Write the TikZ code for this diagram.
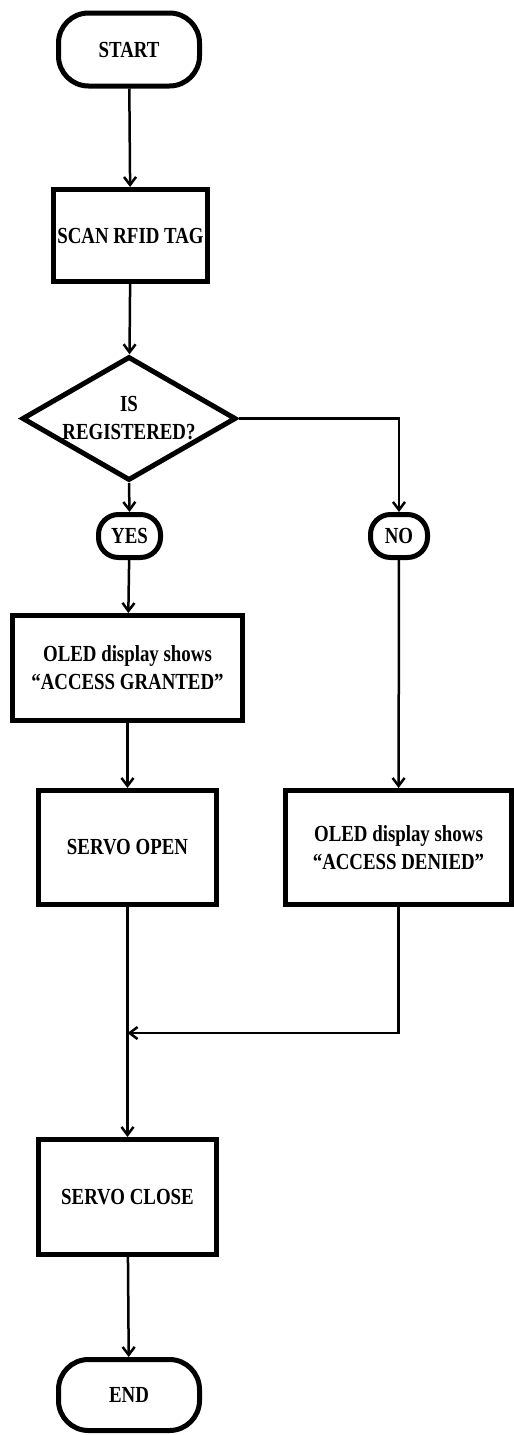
\documentclass[tikz,border=0pt]{standalone}
\usepackage{fontspec}
\setmainfont{Liberation Serif}[FakeStretch=0.82]
\usetikzlibrary{shapes.geometric,arrows.meta}

\tikzstyle{every node}=[font=\fontsize{23}{28}\selectfont\bfseries,
                        align=center, inner sep=0pt]
\tikzstyle{terminal}=[draw, line width=5pt, rounded corners=30pt,
                      minimum width=141pt, minimum height=73pt]
\tikzstyle{answer}=[draw, line width=5pt, rounded corners=20pt,
                    minimum height=43pt]
\tikzstyle{process}=[draw, line width=5pt]
\tikzstyle{decision}=[draw, diamond, line width=5pt, aspect=1.73,
                      minimum width=214pt, minimum height=124pt]
\tikzstyle{flow}=[line width=2.5pt, -{Straight Barb[length=8pt,width=12pt]}]

\begin{document}
\begin{tikzpicture}[x=1pt, y=-1pt]
  \useasboundingbox (0, 0) rectangle (514, 1435);

  \node[terminal] (start) at (129, 49.5) {START};
  \node[process, minimum width=154pt, minimum height=92pt] (scan) at (130.5, 235.5) {SCAN RFID TAG};
  \node[decision] (dia) at (129, 418.5) {IS\\REGISTERED?};

  \node[answer, minimum width=62pt] (yes) at (129.5, 536) {YES};
  \node[answer, minimum width=57pt] (no) at (399, 536) {NO};

  \node[process, minimum width=230pt, minimum height=105pt] (granted) at (127.5, 668)
    {OLED display shows\\``ACCESS GRANTED''};
  \node[process, minimum width=178pt, minimum height=114pt] (open) at (127.5, 847.5) {SERVO OPEN};
  \node[process, minimum width=226pt, minimum height=114pt] (denied) at (398.5, 847.5)
    {OLED display shows\\``ACCESS DENIED''};

  \node[process, minimum width=178pt, minimum height=115pt] (close) at (127.5, 1197) {SERVO CLOSE};
  \node[terminal, minimum height=71pt] (end) at (129, 1395) {END};

  \coordinate (merge) at (open.south |- 0,1033);

  \draw[flow] (start) -- (scan);
  \draw[flow] (scan) -- (dia);
  \draw[flow] (dia.south) -- (yes.north);
  \draw[flow] (dia.east) -| (no.north);
  \draw[flow] (yes) -- (granted);
  \draw[flow] (granted) -- (open);
  \draw[flow] (no) -- (denied);
  \draw[flow] (open) -- (close);
  \draw[flow] (denied.south) |- (merge);
  \draw[flow] (close) -- (end);
\end{tikzpicture}
\end{document}
